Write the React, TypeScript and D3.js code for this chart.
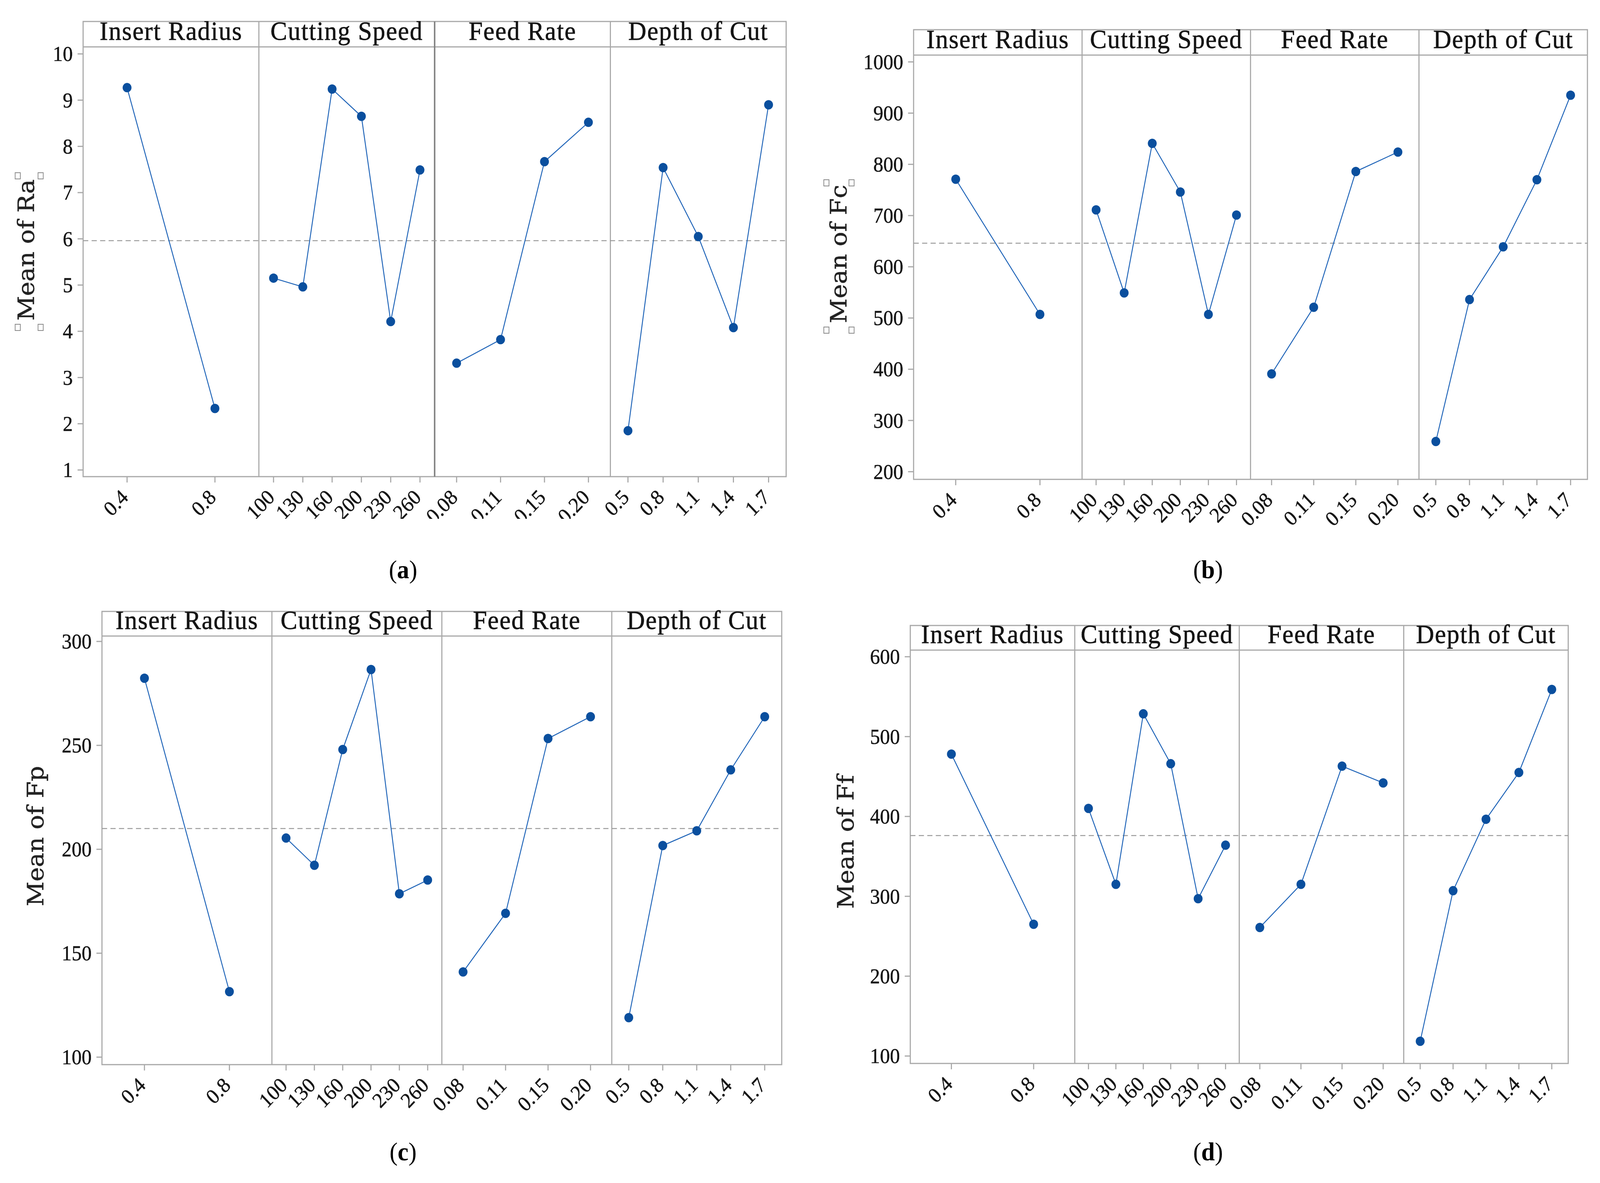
import React from "react";
import * as d3 from "d3";

const W = 4331;
const H = 3028;

const factorNames = ["Insert Radius", "Cutting Speed", "Feed Rate", "Depth of Cut"];

const radiusLevels = ["0.4", "0.8"];
const speedLevels = ["100", "130", "160", "200", "230", "260"];
const feedLevels = ["0.08", "0.11", "0.15", "0.20"];
const depthLevels = ["0.5", "0.8", "1.1", "1.4", "1.7"];
const levelSets = [radiusLevels, speedLevels, feedLevels, depthLevels];

// (a) surface roughness Ra
const raRadius = [9.27, 2.33];
const raSpeed = [5.15, 4.96, 9.24, 8.65, 4.21, 7.49];
const raFeed = [3.31, 3.82, 7.67, 8.52];
const raDepth = [1.85, 7.54, 6.05, 4.08, 8.9];
const raMean = 5.96;
const raTicks = [1, 2, 3, 4, 5, 6, 7, 8, 9, 10];

// (b) cutting force Fc
const fcRadius = [771, 507];
const fcSpeed = [711, 549, 841, 746, 507, 701];
const fcFeed = [391, 521, 786, 824];
const fcDepth = [259, 536, 639, 770, 935];
const fcMean = 646;
const fcTicks = [200, 300, 400, 500, 600, 700, 800, 900, 1000];

// (c) passive force Fp
const fpRadius = [282.3, 131.5];
const fpSpeed = [205.4, 192.3, 248.0, 286.5, 178.6, 185.2];
const fpFeed = [141.0, 169.2, 253.3, 263.8];
const fpDepth = [119.0, 201.8, 208.9, 238.2, 263.8];
const fpMean = 210;
const fpTicks = [100, 150, 200, 250, 300];

// (d) feed force Ff
const ffRadius = [478, 265];
const ffSpeed = [410, 315, 528.5, 466, 297, 364];
const ffFeed = [261, 315, 463, 442];
const ffDepth = [118.5, 307, 396.5, 455, 559];
const ffMean = 376;
const ffTicks = [100, 200, 300, 400, 500, 600];

type Chart = {
  id: string;
  yLabel: string;
  series: number[][];
  mean: number;
  ticks: number[];
  domain: [number, number];
  left: number;
  right: number;
  top: number;
  headBottom: number;
  bottom: number;
  labelX: number;
  labelY: number;
  captionX: number;
  captionY: number;
  boxes: [number, number][];
  clipBottom?: number;
  darkDivider?: number;
};

const charts: Chart[] = [
  {
    id: "a", yLabel: "Mean of Ra", series: [raRadius, raSpeed, raFeed, raDepth], mean: raMean,
    ticks: raTicks, domain: [0.856, 10.152],
    left: 225, right: 2128, top: 55, headBottom: 120, bottom: 1220,
    labelX: 92, labelY: 640, captionX: 1091, captionY: 1480,
    boxes: [[48, 450], [110, 450], [48, 838], [110, 838]], clipBottom: 1328, darkDivider: 2,
  },
  {
    id: "b", yLabel: "Mean of Fc", series: [fcRadius, fcSpeed, fcFeed, fcDepth], mean: fcMean,
    ticks: fcTicks, domain: [185, 1013.3],
    left: 2473, right: 4297, top: 76, headBottom: 141, bottom: 1227,
    labelX: 2291, labelY: 650, captionX: 3270, captionY: 1480,
    boxes: [[2237, 468], [2305, 468], [2237, 845], [2305, 845]],
  },
  {
    id: "c", yLabel: "Mean of Fp", series: [fpRadius, fpSpeed, fpFeed, fpDepth], mean: fpMean,
    ticks: fpTicks, domain: [96.4, 302.6],
    left: 276, right: 2116, top: 1565, headBottom: 1628, bottom: 2725,
    labelX: 117, labelY: 2140, captionX: 1091, captionY: 2970,
    boxes: [],
  },
  {
    id: "d", yLabel: "Mean of Ff", series: [ffRadius, ffSpeed, ffFeed, ffDepth], mean: ffMean,
    ticks: ffTicks, domain: [90.7, 608.3],
    left: 2464, right: 4245, top: 1601, headBottom: 1664, bottom: 2722,
    labelX: 2310, labelY: 2155, captionX: 3270, captionY: 2970,
    boxes: [],
  },
];

const FRAME = "#a8a8a8";
const LINE = "#1f64b8";
const DOT = "#0a4f9e";
const INK = "#141414";
const SERIF = "'Liberation Serif', serif";

function MainEffects({ c }: { c: Chart }) {
  const y = d3.scaleLinear().domain(c.domain).range([c.bottom, c.headBottom]);
  const pw = (c.right - c.left) / 4;
  const line = d3.line<[number, number]>().x((d) => d[0]).y((d) => d[1]);
  const clipId = `clip-${c.id}`;

  const xScales = levelSets.map((levels, i) =>
    d3.scalePoint<string>().domain(levels)
      .range([c.left + pw * i, c.left + pw * (i + 1)]).padding(0.5)
  );

  return (
    <g>
      {c.clipBottom && (
        <clipPath id={clipId}>
          <rect x={0} y={c.bottom} width={W} height={c.clipBottom - c.bottom} />
        </clipPath>
      )}
      {/* frame + header strip */}
      <rect x={c.left} y={c.top} width={c.right - c.left} height={c.bottom - c.top}
        fill="none" stroke={FRAME} strokeWidth={3} />
      <line x1={c.left} x2={c.right} y1={c.headBottom} y2={c.headBottom} stroke={FRAME} strokeWidth={3} />
      {[1, 2, 3].map((i) => (
        <line key={i} x1={c.left + pw * i} x2={c.left + pw * i} y1={c.top} y2={c.bottom}
          stroke={c.darkDivider === i ? "#808080" : FRAME} strokeWidth={c.darkDivider === i ? 4 : 3} />
      ))}
      {factorNames.map((f, i) => (
        <text key={f} x={c.left + pw * (i + 0.5)} y={c.headBottom - 18} textAnchor="middle"
          fontFamily={SERIF} fontSize={68} letterSpacing={2} fill={INK}
          stroke={INK} strokeWidth={0.8}>{f}</text>
      ))}

      {/* y axis */}
      {c.ticks.map((t) => (
        <g key={t}>
          <line x1={c.left - 15} x2={c.left} y1={y(t)} y2={y(t)} stroke={FRAME} strokeWidth={3} />
          <text x={c.left - 28} y={y(t)} dy="0.34em" textAnchor="end" fontFamily={SERIF}
            fontSize={54} fill={INK} stroke={INK} strokeWidth={0.6}>{t}</text>
        </g>
      ))}

      {/* grand mean */}
      <line x1={c.left} x2={c.right} y1={y(c.mean)} y2={y(c.mean)} stroke="#9c9c9c"
        strokeWidth={2.5} strokeDasharray="14 9" />

      {c.series.map((vals, i) => {
        const x = xScales[i];
        const pts: [number, number][] = levelSets[i].map((l, j) => [x(l) as number, y(vals[j])]);
        return (
          <g key={i}>
            <path d={line(pts) || ""} fill="none" stroke={LINE} strokeWidth={2.5} />
            {pts.map((p, j) => (
              <circle key={j} cx={p[0]} cy={p[1]} r={12} fill={DOT} />
            ))}
          </g>
        );
      })}

      {/* x ticks and rotated level labels */}
      <g clipPath={c.clipBottom ? `url(#${clipId})` : undefined}>
        {levelSets.map((levels, i) =>
          levels.map((l) => {
            const tx = xScales[i](l) as number;
            return (
              <g key={`${i}-${l}`}>
                <line x1={tx} x2={tx} y1={c.bottom} y2={c.bottom + 15} stroke={FRAME} strokeWidth={3} />
                <text transform={`translate(${tx + 6},${c.bottom + 56}) rotate(-45)`} textAnchor="end"
                  fontFamily={SERIF} fontSize={54} fill={INK} stroke={INK} strokeWidth={0.6}>{l}</text>
              </g>
            );
          })
        )}
      </g>

      {/* y label */}
      <text transform={`translate(${c.labelX},${c.labelY}) rotate(-90)`} textAnchor="middle"
        fontFamily="'DejaVu Serif', serif" fontSize={62} fill="#222" stroke="#222" strokeWidth={0.6}>{c.yLabel}</text>
      {c.boxes.map((b, i) => (
        <rect key={i} x={b[0] - 7} y={b[1] - 8} width={14} height={16} fill="#fff" stroke="#8a8a8a" strokeWidth={2} />
      ))}

      {/* caption */}
      <text x={c.captionX} y={c.captionY} textAnchor="middle" fontFamily={SERIF} fontSize={66} fill="#000">
        (<tspan fontWeight="bold">{c.id}</tspan>)
      </text>
    </g>
  );
}

export default function App() {
  return (
    <div style={{ position: "fixed", left: 0, top: 0, width: "100vw", height: "100vh", overflow: "hidden" }}>
      <svg viewBox={`0 0 ${W} ${H}`} preserveAspectRatio="none"
        style={{ display: "block", width: "100vw", height: "100vh", background: "#fff" }}>
        <rect width={W} height={H} fill="#fff" />
        {charts.map((c) => (
          <MainEffects key={c.id} c={c} />
        ))}
      </svg>
    </div>
  );
}
